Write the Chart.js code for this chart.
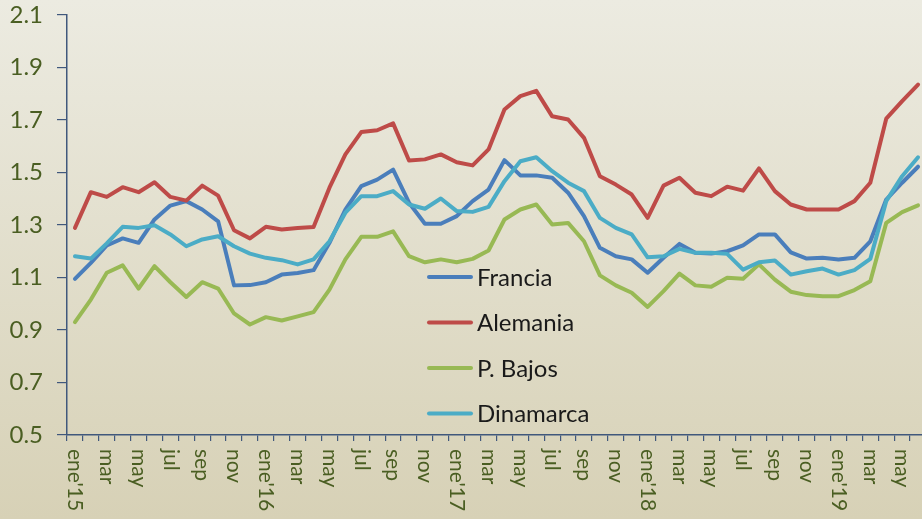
<!DOCTYPE html>
<html>
<head>
<meta charset="utf-8">
<script src="https://cdn.jsdelivr.net/npm/chart.js@4.4.1/dist/chart.umd.min.js"></script>
<style>
  html, body {
    margin: 0;
    padding: 0;
    overflow: hidden;
    background: linear-gradient(#ecebe1, #d7d1b6);
    width: 922px;
    height: 519px;
  }
  #wrap { width: 926px; height: 519px; }
</style>
</head>
<body>
<div id="wrap"><canvas id="chart"></canvas></div>
<script>
const months = [
  "ene'15", "feb", "mar", "abr", "may", "jun", "jul", "ago", "sep", "oct", "nov", "dic",
  "ene'16", "feb", "mar", "abr", "may", "jun", "jul", "ago", "sep", "oct", "nov", "dic",
  "ene'17", "feb", "mar", "abr", "may", "jun", "jul", "ago", "sep", "oct", "nov", "dic",
  "ene'18", "feb", "mar", "abr", "may", "jun", "jul", "ago", "sep", "oct", "nov", "dic",
  "ene'19", "feb", "mar", "abr", "may", "jun"
];

const francia = [1.095, 1.156, 1.222, 1.249, 1.232, 1.321, 1.374, 1.391, 1.359, 1.314, 1.070, 1.071,
  1.082, 1.111, 1.117, 1.128, 1.232, 1.359, 1.448, 1.473, 1.511, 1.385, 1.305, 1.305,
  1.334, 1.391, 1.435, 1.547, 1.489, 1.489, 1.480, 1.423, 1.334, 1.213, 1.181, 1.169,
  1.118, 1.175, 1.228, 1.194, 1.191, 1.200, 1.222, 1.264, 1.264, 1.196, 1.172, 1.175,
  1.169, 1.175, 1.238, 1.397, 1.461, 1.522];

const alemania = [1.289, 1.425, 1.407, 1.444, 1.425, 1.463, 1.407, 1.393, 1.450, 1.412, 1.280, 1.249,
  1.293, 1.283, 1.289, 1.292, 1.442, 1.569, 1.654, 1.661, 1.687, 1.546, 1.550, 1.569,
  1.539, 1.527, 1.588, 1.740, 1.791, 1.811, 1.714, 1.702, 1.632, 1.486, 1.454, 1.416,
  1.327, 1.450, 1.480, 1.423, 1.410, 1.446, 1.431, 1.516, 1.429, 1.378, 1.359, 1.359,
  1.359, 1.391, 1.461, 1.705, 1.772, 1.835];

const pBajos = [0.930, 1.016, 1.118, 1.146, 1.058, 1.143, 1.082, 1.026, 1.082, 1.058, 0.963, 0.921,
  0.949, 0.936, 0.952, 0.968, 1.054, 1.169, 1.255, 1.255, 1.276, 1.181, 1.158, 1.169,
  1.158, 1.171, 1.203, 1.321, 1.359, 1.378, 1.302, 1.308, 1.238, 1.108, 1.070, 1.042,
  0.988, 1.048, 1.115, 1.070, 1.065, 1.099, 1.095, 1.150, 1.092, 1.046, 1.033, 1.029,
  1.029, 1.052, 1.086, 1.308, 1.349, 1.375];

const dinamarca = [1.181, 1.172, 1.230, 1.293, 1.289, 1.299, 1.264, 1.219, 1.245, 1.257, 1.219, 1.191,
  1.175, 1.166, 1.150, 1.169, 1.238, 1.347, 1.410, 1.410, 1.429, 1.378, 1.362, 1.401,
  1.353, 1.350, 1.369, 1.467, 1.543, 1.558, 1.505, 1.461, 1.429, 1.327, 1.289, 1.264,
  1.177, 1.181, 1.209, 1.194, 1.194, 1.190, 1.130, 1.158, 1.165, 1.111, 1.124, 1.134,
  1.111, 1.128, 1.171, 1.391, 1.486, 1.558];

const seriesNames = ["Francia", "Alemania", "P. Bajos", "Dinamarca"];
const seriesColors = ["#4a7ebb", "#be4b48", "#98b954", "#4bacc6"];
const yTicks = [0.5, 0.7, 0.9, 1.1, 1.3, 1.5, 1.7, 1.9, 2.1];

const axisColor = "#40587c";
const labelColor = "#4a5e22";
const fontFamily = "Lato, 'Noto Sans', sans-serif";

// x labels read top to bottom, so they are drawn here instead of by the scale
const xLabelsPlugin = {
  id: "xLabels",
  afterDraw(chart) {
    const ctx = chart.ctx;
    const xs = chart.scales.x;
    ctx.save();
    ctx.fillStyle = labelColor;
    ctx.font = "21px " + fontFamily;
    ctx.textAlign = "left";
    ctx.textBaseline = "middle";
    months.forEach((m, i) => {
      if (i % 2 !== 0) return;
      const x = xs.getPixelForValue(i);
      ctx.save();
      ctx.translate(x, chart.chartArea.bottom + 14);
      ctx.rotate(Math.PI / 2);
      ctx.fillText(m, 0, 0);
      ctx.restore();
    });
    ctx.restore();
  }
};

const legendPlugin = {
  id: "innerLegend",
  afterDatasetsDraw(chart) {
    const ctx = chart.ctx;
    ctx.save();
    ctx.font = "24px " + fontFamily;
    ctx.textBaseline = "middle";
    ctx.textAlign = "left";
    seriesNames.forEach((name, i) => {
      const y = 277 + i * 45.5;
      ctx.strokeStyle = seriesColors[i];
      ctx.lineWidth = 4;
      ctx.lineCap = "round";
      ctx.beginPath();
      ctx.moveTo(429, y);
      ctx.lineTo(471, y);
      ctx.stroke();
      ctx.fillStyle = "#1a1a1a";
      ctx.fillText(name, 477, y + 1);
    });
    ctx.restore();
  }
};

const allSeries = [francia, alemania, pBajos, dinamarca];

new Chart(document.getElementById("chart"), {
  type: "line",
  data: {
    labels: months,
    datasets: allSeries.map((d, i) => ({
      label: seriesNames[i],
      data: d,
      borderColor: seriesColors[i],
      backgroundColor: seriesColors[i],
      borderWidth: 4,
      pointRadius: 0,
      tension: 0,
      fill: false,
      borderJoinStyle: "round",
      borderCapStyle: "round",
      order: allSeries.length - i,
    })),
  },
  options: {
    responsive: true,
    maintainAspectRatio: false,
    animation: false,
    layout: { padding: { top: 15, left: 0, right: 0, bottom: 0 } },
    scales: {
      x: {
        type: "category",
        offset: true,
        grid: {
          offset: true,
          drawOnChartArea: false,
          drawTicks: true,
          tickLength: 6,
          color: axisColor,
          lineWidth: 1.2,
        },
        border: { display: true, color: axisColor, width: 1.5 },
        ticks: { display: false, autoSkip: false },
        afterFit(scale) {
          scale.height = 84;
          scale.paddingLeft = 0;
          scale.paddingRight = 0;
        },
      },
      y: {
        min: 0.5,
        max: 2.1,
        afterBuildTicks(scale) { scale.ticks = yTicks.map(v => ({ value: v })); },
        grid: {
          drawOnChartArea: false,
          drawTicks: true,
          tickLength: 10,
          color: axisColor,
          lineWidth: 1.2,
        },
        border: { display: true, color: axisColor, width: 1.5 },
        ticks: {
          color: labelColor,
          font: { family: fontFamily, size: 24 },
          padding: 14,
          callback: (v) => v.toFixed(1),
        },
        afterFit(scale) {
          scale.width = 67;
          scale.paddingTop = 0;
          scale.paddingBottom = 0;
        },
      },
    },
    plugins: {
      legend: { display: false },
      tooltip: { enabled: false },
    },
  },
  plugins: [xLabelsPlugin, legendPlugin],
});
</script>
</body>
</html>
